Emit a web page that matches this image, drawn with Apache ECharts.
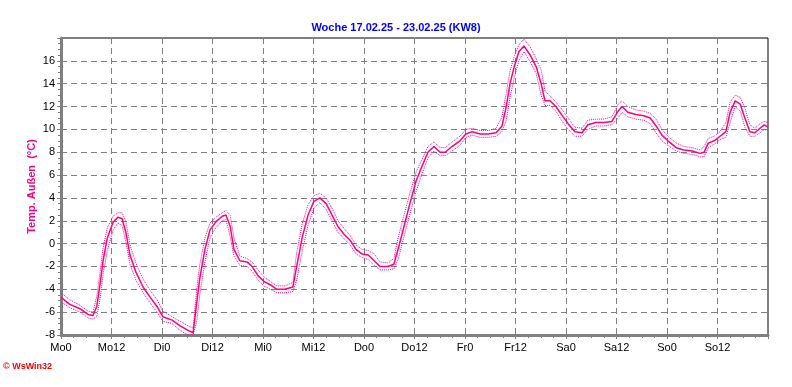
<!DOCTYPE html>
<html>
<head>
<meta charset="utf-8">
<script src="https://cdn.jsdelivr.net/npm/echarts@6/dist/echarts.min.js"></script>
<style>
  html, body { margin: 0; padding: 0; background: #fff; }
  #main { width: 792px; height: 387px; }
</style>
</head>
<body>
<div id="main"></div>
<script>
// hours since Monday 0:00
var hours = [0, 2, 4.5, 6.4, 7.6, 8.5, 9.3, 10, 11, 12.4, 13.5, 14.5, 15.4, 16.4, 17.8, 19.5, 21, 22.8,
    24.2, 26.4, 28.3, 30.2, 31.4, 32.3, 33, 34.2, 35.4, 36.8, 38.3, 39.2, 40.2, 41.1, 42.5, 44.2, 45.4, 46.8,
    48.2, 49.7, 51.3, 53.2, 55.1, 56, 57.3, 58.7, 60.1, 61.5, 63, 64.4, 65.8, 67.3, 68.7, 70.1, 71.5,
    73, 74.4, 75.8, 77.7, 79.1, 80.1, 81.5, 82.9, 84.4, 85.8, 87.2, 88.6, 90.1, 91.3, 92.9, 94.8,
    96.2, 97.7, 99.6, 101.5, 103.4, 104.8, 105.8, 106.7, 107.7, 108.8, 110, 111.5, 112.9, 114.1, 115, 116.2, 117.6, 119.1,
    120.5, 122.1, 123.8, 125.2, 127.1, 129, 130.9, 132.4, 133.3, 134.7, 136.6, 138.5, 140, 141.4, 142.8,
    144.2, 146.2, 148, 150, 151.9, 152.8, 153.8, 155.2, 156.6, 158, 159, 160.2, 161.4, 162.5, 163.7, 164.9, 166.1, 167.1, 168];

var temp = [-4.7, -5.3, -5.7, -6.2, -6.3, -5.5, -3.5, -1.5, 0.5, 1.9, 2.3, 2.2, 1.0, -1.0, -2.5, -3.8, -4.6, -5.5,
    -6.4, -6.7, -7.2, -7.6, -7.8, -5, -3, -0.5, 1.2, 1.9, 2.4, 2.5, 1.5, -0.5, -1.5, -1.6, -2.0, -2.8,
    -3.3, -3.6, -4.0, -4.0, -3.8, -2, 0.5, 2.5, 3.7, 4.0, 3.5, 2.5, 1.5, 0.8, 0.3, -0.5, -0.9,
    -1.0, -1.5, -2.0, -2.0, -1.8, -0.5, 1.5, 3.5, 5.5, 6.8, 8.0, 8.5, 8.0, 8.0, 8.5, 9.0,
    9.6, 9.8, 9.6, 9.6, 9.7, 10.3, 12, 14, 15.5, 16.8, 17.3, 16.5, 15.5, 14.0, 12.5, 12.5, 12.0, 11.2,
    10.5, 9.8, 9.7, 10.4, 10.6, 10.6, 10.7, 11.6, 12.0, 11.5, 11.3, 11.2, 11.0, 10.3, 9.5,
    9.0, 8.4, 8.2, 8.1, 7.9, 8.0, 8.8, 9.0, 9.4, 9.8, 11.5, 12.5, 12.2, 11.0, 9.8, 9.7, 10.1, 10.4, 10.2];

var tempMax = [-4.3, -4.9, -5.4, -5.9, -6.0, -4.6, -2.4, -0.4, 1.4, 2.4, 2.7, 2.7, 2.0, -0.1, -1.7, -3.1, -4.0, -4.9,
    -5.9, -6.4, -6.8, -7.2, -7.4, -3.8, -1.8, 0.5, 1.8, 2.3, 2.7, 2.9, 2.5, 0.5, -1.1, -1.3, -1.6, -2.3,
    -2.9, -3.3, -3.7, -3.7, -3.4, -0.8, 1.7, 3.4, 4.2, 4.4, 4.0, 3.1, 2.0, 1.3, 0.7, -0.1, -0.5,
    -0.6, -0.9, -1.6, -1.7, -1.3, 0.5, 2.5, 4.4, 6.3, 7.4, 8.5, 8.9, 8.4, 8.4, 8.9, 9.4,
    10.0, 10.1, 9.9, 9.9, 10.1, 11.1, 13.2, 15.1, 16.4, 17.4, 17.9, 17.2, 16.2, 15.2, 13.4, 12.9, 12.4, 11.7,
    11.0, 10.2, 10.1, 10.8, 10.9, 10.9, 11.1, 12.2, 12.5, 12.0, 11.7, 11.6, 11.4, 10.9, 10.0,
    9.4, 8.8, 8.5, 8.4, 8.2, 8.5, 9.2, 9.4, 9.8, 10.6, 12.4, 13.0, 12.8, 11.9, 10.4, 10.1, 10.5, 10.7, 10.6];

var tempMin = [-5.1, -5.6, -6.0, -6.5, -6.6, -6.4, -4.8, -2.7, -0.6, 1.2, 1.8, 1.6, 0.2, -1.8, -3.2, -4.3, -5.1, -6.0,
    -6.8, -7.0, -7.6, -8.0, -8.0, -6.7, -4.4, -1.6, 0.5, 1.4, 2.0, 2.1, 0.6, -1.1, -1.9, -2.0, -2.4, -3.2,
    -3.7, -4.0, -4.3, -4.3, -4.2, -3.2, -0.7, 1.6, 3.1, 3.6, 3.0, 2.0, 1.0, 0.4, -0.1, -0.9, -1.2,
    -1.4, -1.9, -2.3, -2.3, -2.2, -1.4, 0.6, 2.6, 4.6, 6.1, 7.5, 8.1, 7.7, 7.7, 8.1, 8.6,
    9.3, 9.5, 9.3, 9.3, 9.4, 9.8, 10.8, 12.8, 14.5, 16.0, 16.8, 15.9, 14.9, 13.0, 12.1, 12.1, 11.6, 10.7,
    10.0, 9.4, 9.4, 10.0, 10.3, 10.3, 10.4, 11.0, 11.5, 11.1, 10.9, 10.8, 10.5, 9.7, 9.0,
    8.6, 8.1, 7.9, 7.8, 7.6, 7.6, 8.4, 8.7, 9.1, 9.3, 10.6, 12.0, 11.6, 10.2, 9.4, 9.4, 9.7, 10.0, 9.9];

var xTickLabels = ['Mo0', 'Mo12', 'Di0', 'Di12', 'Mi0', 'Mi12', 'Do0', 'Do12', 'Fr0', 'Fr12', 'Sa0', 'Sa12', 'So0', 'So12', ''];

var lineColor = '#ff0080';

function pairs(xs, ys) {
    var out = [];
    for (var i = 0; i < xs.length; i++) {
        out.push([xs[i], ys[i]]);
    }
    return out;
}

var myChart = echarts.init(document.getElementById('main'));
var option = {
    animation: false,
    backgroundColor: '#fff',
    title: {
        text: 'Woche 17.02.25 - 23.02.25 (KW8)',
        left: 'center',
        top: 17,
        textStyle: { color: '#0000ff', fontSize: 11, fontWeight: 'bold', fontFamily: 'Liberation Sans, Arial' }
    },
    grid: {
        left: 61,
        right: 24,
        top: 38,
        bottom: 52,
        show: true,
        borderColor: '#000',
        borderWidth: 1
    },
    xAxis: {
        type: 'value',
        min: 0,
        max: 168,
        interval: 12,
        axisLine: { onZero: false, lineStyle: { color: '#808080', width: 3 } },
        axisTick: { show: true, length: 4, lineStyle: { color: '#808080' } },
        minorTick: { show: true, splitNumber: 4, length: 3, lineStyle: { color: '#808080' } },
        axisLabel: {
            color: '#000',
            fontSize: 11,
            fontFamily: 'Liberation Sans, Arial',
            margin: 7,
            formatter: function (v) { return xTickLabels[Math.round(v / 12)]; }
        },
        splitLine: { show: true, lineStyle: { color: '#808080', type: [6, 4] } }
    },
    yAxis: {
        type: 'value',
        min: -8,
        max: 18,
        interval: 2,
        name: 'Temp. Außen  (°C)',
        nameLocation: 'middle',
        nameGap: 24,
        nameMoveOverlap: false,
        nameTextStyle: { color: lineColor, fontSize: 11, fontWeight: 'bold', fontFamily: 'Liberation Sans, Arial' },
        axisLine: { show: true, lineStyle: { color: '#808080', width: 3 } },
        axisTick: { show: true, length: 4, lineStyle: { color: '#808080' } },
        minorTick: { show: true, splitNumber: 4, length: 3, lineStyle: { color: '#808080' } },
        axisLabel: {
            color: '#000',
            fontSize: 11,
            fontFamily: 'Liberation Sans, Arial',
            margin: 6,
            showMaxLabel: false
        },
        splitLine: { show: true, lineStyle: { color: '#808080', type: [6, 4] } }
    },
    graphic: [{
        type: 'text',
        left: 3,
        top: 362,
        style: { text: '© WsWin32', fill: '#ff0000', font: 'bold 9px Liberation Sans, Arial' }
    }],
    series: [
        {
            type: 'line',
            data: pairs(hours, tempMax),
            symbol: 'none',
            lineStyle: { color: lineColor, width: 1, type: [1, 1] }
        },
        {
            type: 'line',
            data: pairs(hours, tempMin),
            symbol: 'none',
            lineStyle: { color: lineColor, width: 1, type: [1, 1] }
        },
        {
            type: 'line',
            data: pairs(hours, temp),
            symbol: 'none',
            lineStyle: { color: lineColor, width: 1.5 }
        }
    ]
};
myChart.setOption(option);
</script>
</body>
</html>
